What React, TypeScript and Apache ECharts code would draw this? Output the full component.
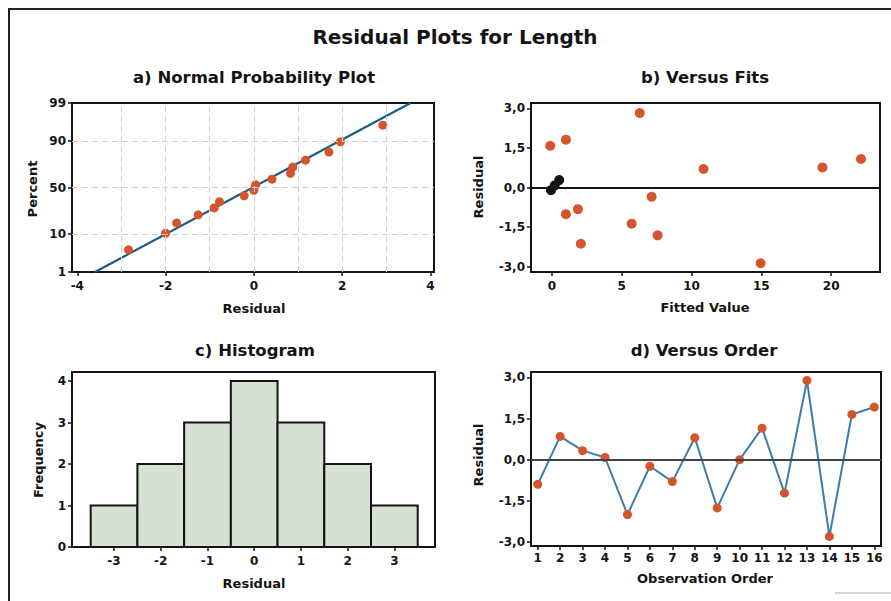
import React, { useEffect, useRef } from "react";
import * as echarts from "echarts";

// ---------- data ----------
const probResiduals = [-2.84, -2.0, -1.75, -1.26, -0.9, -0.78, -0.22, 0.0, 0.04, 0.41, 0.83, 0.88, 1.17, 1.7, 1.96, 2.92];
const probPercents = [4.3, 10.4, 16.5, 22.6, 28.7, 34.8, 40.9, 47.0, 53.0, 59.1, 65.2, 71.3, 77.4, 83.5, 89.6, 95.7];
const fitLineResidual = [-3.6, 3.55];
const fitLinePercent = [1, 99];
const probXTicks = [-4, -2, 0, 2, 4];
const probXGrid = [-3, -2, -1, 0, 1, 2, 3];
const probYTicks = [1, 10, 50, 90, 99];
const probYGrid = [10, 50, 90];

const fitsX = [-0.12, 1.0, 6.29, 10.86, 19.38, 22.14, 1.0, 1.86, 2.07, 5.71, 7.14, 7.57, 14.95];
const fitsResid = [1.58, 1.81, 2.82, 0.7, 0.76, 1.08, -1.01, -0.82, -2.13, -1.37, -0.35, -1.81, -2.87];
const fitsBlackX = [-0.07, 0.2, 0.52];
const fitsBlackResid = [-0.1, 0.08, 0.28];
const fitsXTicks = [0, 5, 10, 15, 20];
const residTicks = [-3, -1.5, 0, 1.5, 3];

const histCenters = [-3, -2, -1, 0, 1, 2, 3];
const histFreq = [1, 2, 3, 4, 3, 2, 1];
const histYTicks = [0, 1, 2, 3, 4];

const orderIdx = [1, 2, 3, 4, 5, 6, 7, 8, 9, 10, 11, 12, 13, 14, 15, 16];
const orderResid = [-0.9, 0.85, 0.33, 0.08, -2.0, -0.24, -0.8, 0.8, -1.76, 0.0, 1.15, -1.22, 2.89, -2.8, 1.65, 1.92];

// ---------- helpers ----------
function normInv(p: number): number {
  const a = [-3.969683028665376e1, 2.209460984245205e2, -2.759285104469687e2, 1.38357751867269e2, -3.066479806614716e1, 2.506628277459239];
  const b = [-5.447609879822406e1, 1.615858368580409e2, -1.556989798598866e2, 6.680131188771972e1, -1.328068155288572e1];
  const c = [-7.784894002430293e-3, -3.223964580411365e-1, -2.400758277161838, -2.549732539343734, 4.374664141464968, 2.938163982698783];
  const d = [7.784695709041462e-3, 3.224671290700398e-1, 2.445134137142996, 3.754408661907416];
  const pl = 0.02425;
  if (p < pl) {
    const q = Math.sqrt(-2 * Math.log(p));
    return (((((c[0] * q + c[1]) * q + c[2]) * q + c[3]) * q + c[4]) * q + c[5]) / ((((d[0] * q + d[1]) * q + d[2]) * q + d[3]) * q + 1);
  }
  if (p > 1 - pl) {
    const q = Math.sqrt(-2 * Math.log(1 - p));
    return -(((((c[0] * q + c[1]) * q + c[2]) * q + c[3]) * q + c[4]) * q + c[5]) / ((((d[0] * q + d[1]) * q + d[2]) * q + d[3]) * q + 1);
  }
  const q = p - 0.5;
  const r = q * q;
  return ((((((a[0] * r + a[1]) * r + a[2]) * r + a[3]) * r + a[4]) * r + a[5]) * q) / (((((b[0] * r + b[1]) * r + b[2]) * r + b[3]) * r + b[4]) * r + 1);
}
const z = (pct: number) => normInv(pct / 100);

const FONT = "DejaVu Sans";
const ORANGE = "#d4552b";
const INK = "#141414";

function valAxis(gridIndex: number, min: number, max: number, ticks: number[], fmt?: (v: number) => string, margin = 6) {
  return {
    type: "value",
    gridIndex,
    min,
    max,
    axisLine: { show: false, onZero: false },
    splitLine: { show: false },
    axisTick: { show: true, customValues: ticks, length: 4, lineStyle: { color: INK, width: 1.5 } },
    axisLabel: {
      customValues: ticks,
      formatter: fmt,
      color: INK,
      fontSize: 12,
      fontWeight: "bold",
      fontFamily: FONT,
      margin,
    },
  };
}

const comma = (v: number) => v.toFixed(1).replace(".", ",");

function txt(text: string, x: number, y: number, size: number, rotate = false) {
  return {
    type: "text",
    x,
    y,
    rotation: rotate ? Math.PI / 2 : 0,
    style: {
      text,
      fill: INK,
      font: `bold ${size}px "${FONT}"`,
      textAlign: "center",
      textVerticalAlign: "middle",
    },
  };
}

export default function App() {
  const ref = useRef<HTMLDivElement>(null);
  useEffect(() => {
    document.body.style.margin = "0";
    if (!ref.current) return;
    const chart = echarts.init(ref.current, undefined, { renderer: "svg" });

    const zTicks = probYTicks.map(z);
    const gridStyle = { show: true, borderColor: INK, borderWidth: 2, backgroundColor: "transparent" };
    const dot = { color: ORANGE, opacity: 1 };

    const option: any = {
      animation: false,
      backgroundColor: "#ffffff",
      grid: [
        { left: 72, top: 103, width: 362, height: 169, ...gridStyle },
        { left: 531, top: 103, width: 349, height: 169, ...gridStyle },
        { left: 72, top: 372, width: 363, height: 175, ...gridStyle },
        { left: 531, top: 372, width: 350, height: 174, ...gridStyle },
      ],
      xAxis: [
        valAxis(0, -4.12, 4.08, probXTicks, undefined, 8),
        valAxis(1, -1.5, 23.5, fitsXTicks, undefined, 8),
        valAxis(2, -3.9, 3.87, histCenters, undefined, 8),
        valAxis(3, 0.7, 16.3, orderIdx, undefined, 6),
      ],
      yAxis: [
        valAxis(0, z(1), z(99), zTicks, (v: number) => {
          const i = zTicks.findIndex((t) => Math.abs(t - v) < 1e-6);
          return i >= 0 ? String(probYTicks[i]) : "";
        }),
        valAxis(1, -3.2, 3.2, residTicks, comma),
        valAxis(2, 0, 4.22, histYTicks),
        valAxis(3, -3.15, 3.2, residTicks, comma),
      ],
      series: [
        // a) normal probability plot
        {
          type: "line",
          xAxisIndex: 0,
          yAxisIndex: 0,
          data: [],
          silent: true,
          markLine: {
            silent: true,
            symbol: "none",
            label: { show: false },
            lineStyle: { color: "#d2d2d2", type: [6, 4], width: 1 },
            data: [
              ...probXGrid.map((v) => ({ xAxis: v })),
              ...probYGrid.map((p) => ({ yAxis: z(p) })),
            ],
          },
        },
        {
          type: "line",
          xAxisIndex: 0,
          yAxisIndex: 0,
          data: fitLineResidual.map((r, i) => [r, z(fitLinePercent[i])]),
          symbol: "none",
          lineStyle: { color: "#1d5a88", width: 2.2 },
          z: 2,
        },
        {
          type: "scatter",
          xAxisIndex: 0,
          yAxisIndex: 0,
          data: probResiduals.map((r, i) => [r, z(probPercents[i])]),
          symbolSize: 9,
          itemStyle: dot,
          z: 3,
        },
        // b) versus fits
        {
          type: "scatter",
          xAxisIndex: 1,
          yAxisIndex: 1,
          data: fitsX.map((x, i) => [x, fitsResid[i]]),
          symbolSize: 10,
          itemStyle: dot,
          markLine: {
            silent: true,
            symbol: "none",
            label: { show: false },
            lineStyle: { color: INK, type: "solid", width: 2 },
            data: [{ yAxis: 0 }],
          },
        },
        {
          type: "scatter",
          xAxisIndex: 1,
          yAxisIndex: 1,
          data: fitsBlackX.map((x, i) => [x, fitsBlackResid[i]]),
          symbolSize: 10,
          itemStyle: { color: INK, opacity: 1 },
          z: 4,
        },
        // c) histogram
        {
          type: "custom",
          xAxisIndex: 2,
          yAxisIndex: 2,
          data: histCenters.map((c, i) => [c, histFreq[i]]),
          encode: { x: 0, y: 1 },
          renderItem: (params: any, api: any) => {
            const x = api.value(0);
            const h = api.value(1);
            const p0 = api.coord([x - 0.5, h]);
            const p1 = api.coord([x + 0.5, 0]);
            return {
              type: "rect",
              shape: { x: p0[0], y: p0[1], width: p1[0] - p0[0], height: p1[1] - p0[1] },
              style: { fill: "#d6e0d3", stroke: INK, lineWidth: 2 },
            };
          },
        },
        // d) versus order
        {
          type: "line",
          xAxisIndex: 3,
          yAxisIndex: 3,
          data: orderIdx.map((o, i) => [o, orderResid[i]]),
          symbol: "circle",
          symbolSize: 9,
          itemStyle: dot,
          lineStyle: { color: "#3c7cb0", width: 2 },
          markLine: {
            silent: true,
            symbol: "none",
            label: { show: false },
            lineStyle: { color: "#444444", type: "solid", width: 2 },
            data: [{ yAxis: 0 }],
          },
        },
      ],
      graphic: [
        { type: "line", shape: { x1: 8, y1: 9, x2: 891, y2: 9 }, style: { stroke: "#222", lineWidth: 2 } },
        { type: "line", shape: { x1: 9, y1: 9, x2: 9, y2: 601 }, style: { stroke: "#222", lineWidth: 2 } },
        { type: "line", shape: { x1: 835, y1: 593, x2: 891, y2: 593 }, style: { stroke: "#aaa", lineWidth: 1 } },
        txt("Residual Plots for Length", 455, 37, 20),
        txt("a) Normal Probability Plot", 254, 77, 16.5),
        txt("b) Versus Fits", 705, 77, 16.5),
        txt("c) Histogram", 255, 350, 16.5),
        txt("d) Versus Order", 704, 350, 16.5),
        txt("Percent", 32, 189, 13, true),
        txt("Residual", 254, 308, 13),
        txt("Residual", 478, 187, 13, true),
        txt("Fitted Value", 705, 307, 13),
        txt("Frequency", 38, 460, 13, true),
        txt("Residual", 254, 583, 13),
        txt("Residual", 478, 455, 13, true),
        txt("Observation Order", 705, 578, 13),
      ],
    };
    chart.setOption(option);
    return () => chart.dispose();
  }, []);
  return <div ref={ref} style={{ width: 891, height: 601 }} />;
}
